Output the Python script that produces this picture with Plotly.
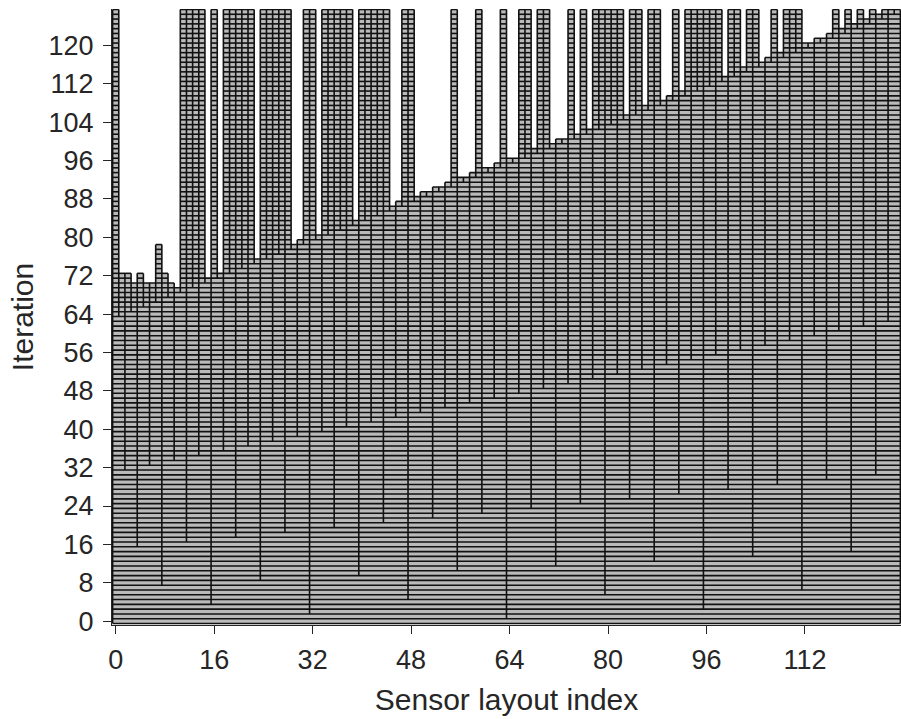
import plotly.graph_objects as go

# ---- data ----
layout_index = list(range(128))

# number of iterations each sensor layout stays in (column heights)
iterations_alive = [
    128, 73, 73, 71, 73, 71, 71, 79, 73, 71,
    70, 128, 128, 128, 128, 72, 128, 73, 128, 128,
    128, 128, 128, 76, 128, 128, 128, 128, 128, 79,
    80, 128, 128, 81, 128, 128, 128, 128, 128, 84,
    128, 128, 128, 128, 128, 87, 88, 128, 128, 89,
    90, 90, 91, 91, 92, 128, 93, 93, 94, 128,
    95, 95, 96, 128, 97, 97, 128, 128, 99, 128,
    128, 100, 101, 101, 128, 102, 128, 103, 128, 128,
    128, 128, 128, 106, 128, 128, 108, 128, 128, 109,
    110, 128, 111, 128, 128, 128, 128, 128, 128, 114,
    128, 128, 116, 128, 128, 117, 118, 128, 119, 128,
    128, 128, 121, 121, 122, 122, 123, 128, 124, 128,
    125, 128, 126, 128, 127, 128, 128, 128,
]

# split positions (boundary before this layout index), in the order they appear
split_level1 = [64]
split_level2 = [32, 96]
split_level3 = [16, 48, 80, 112]
split_level4 = [8, 24, 40, 56, 72, 88, 104, 120]
split_level5 = [4, 12, 20, 28, 36, 44, 52, 60, 68, 76, 84, 92, 100, 108, 116, 124]
split_level6 = [2, 6, 10, 14, 18, 22, 26, 30, 34, 38, 42, 46, 50, 54, 58, 62,
                66, 70, 74, 78, 82, 86, 90, 94, 98, 102, 106, 110, 114, 118, 122, 126]
split_level7 = [1, 3, 5, 7, 9, 11, 13, 15, 17, 19, 21, 23, 25, 27, 29, 31,
                33, 35, 37, 39, 41, 43, 45, 47, 49, 51, 53, 55, 57, 59, 61, 63,
                65, 67, 69, 71, 73, 75, 77, 79, 81, 83, 85, 87, 89, 91, 93, 95,
                97, 99, 101, 103, 105, 107, 109, 111, 113, 115, 117, 119, 121, 123, 125, 127]

x_ticks = [0, 16, 32, 48, 64, 80, 96, 112]
y_ticks = [0, 8, 16, 24, 32, 40, 48, 56, 64, 72, 80, 88, 96, 104, 112, 120]

# ---- derived geometry ----
split_order = (split_level1 + split_level2 + split_level3 + split_level4
               + split_level5 + split_level6 + split_level7)
split_iter = {s: k + 1 for k, s in enumerate(split_order)}
n = len(layout_index)

hx, hy = [], []
for t in range(n + 1):
    yv = t - 0.5
    i = 0
    while i < n:
        if iterations_alive[i] >= t:
            j = i
            while j + 1 < n and iterations_alive[j + 1] >= t:
                j += 1
            hx += [layout_index[i] - 0.5, layout_index[j] + 0.5, None]
            hy += [yv, yv, None]
            i = j + 1
        else:
            i += 1

vx, vy = [], []
for s in range(n + 1):
    xv = s - 0.5
    if s == 0:
        lo, hi = 0, iterations_alive[0]
    elif s == n:
        lo, hi = 0, iterations_alive[n - 1]
    else:
        lo, hi = split_iter[s], max(iterations_alive[s - 1], iterations_alive[s])
    vx += [xv, xv, None]
    vy += [lo - 0.5, hi - 0.5, None]

fig = go.Figure()
fig.add_trace(go.Bar(
    x=layout_index, y=iterations_alive, base=[-0.5] * n, width=1,
    marker=dict(color="#bababa", line=dict(width=0)),
    hoverinfo="skip", showlegend=False,
))
fig.add_trace(go.Scatter(
    x=hx + vx, y=hy + vy, mode="lines",
    line=dict(color="#111111", width=1.6),
    hoverinfo="skip", showlegend=False,
))

font_family = "Liberation Sans, Arial, sans-serif"
fig.update_layout(
    width=901, height=719,
    margin=dict(l=112, r=0, t=9, b=94),
    paper_bgcolor="white", plot_bgcolor="white",
    bargap=0,
    font=dict(family=font_family, color="#262626"),
    xaxis=dict(
        range=[-0.6, 127.6], tickmode="array", tickvals=x_ticks,
        ticks="outside", ticklen=8, tickwidth=1, tickcolor="#262626",
        showline=True, linecolor="#262626", linewidth=1,
        showgrid=False, zeroline=False, automargin=False,
        tickfont=dict(size=27, color="#262626"),
        ticklabelstandoff=3,
        title=dict(text="Sensor layout index", font=dict(size=30, color="#262626"), standoff=14),
    ),
    yaxis=dict(
        range=[-0.8, 127.6], tickmode="array", tickvals=y_ticks,
        ticks="outside", ticklen=8, tickwidth=1, tickcolor="#262626",
        showline=True, linecolor="#262626", linewidth=1,
        showgrid=False, zeroline=False, automargin=False,
        tickfont=dict(size=27, color="#262626"),
        ticklabelstandoff=4,
        title=dict(text="Iteration", font=dict(size=30, color="#262626"), standoff=6),
    ),
)

fig.write_html(
    "out.html",
    config={"displayModeBar": False, "staticPlot": True},
    post_script="document.body.style.margin='0';document.body.style.overflow='hidden';",
)
